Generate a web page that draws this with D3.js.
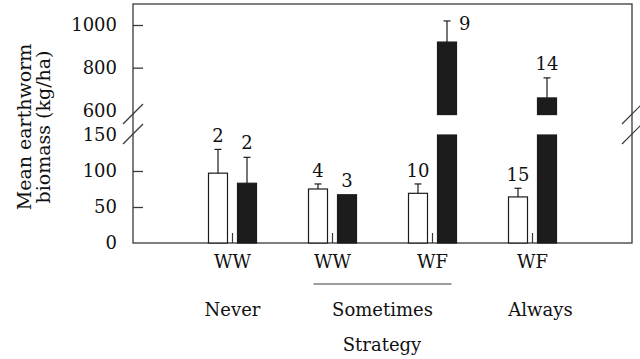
<!DOCTYPE html>
<html>
<head>
<meta charset="utf-8">
<script src="https://cdn.jsdelivr.net/npm/d3@7"></script>
<style>
  html, body { margin: 0; padding: 0; background: #fff; }
  svg { display: block; }
  text { font-family: "DejaVu Serif", serif; fill: #111; }
</style>
</head>
<body>
<script>
// ---- data ----
const strategies = ["Never", "Sometimes", "Sometimes", "Always"];
const rotations = ["WW", "WW", "WF", "WF"];
const whiteMeans = [97, 75, 69, 64];
const whiteSE = [33, 7, 13, 12];
const whiteN = [2, 4, 10, 15];
const blackMeans = [83, 67, 920, 658];
const blackSE = [36, 0, 99, 94];
const blackN = [2, 3, 9, 14];
const lowerTicks = [0, 50, 100, 150];
const upperTicks = [600, 800, 1000];
const strategyLabels = ["Never", "Sometimes", "Always"];
const yTitle = ["Mean earthworm", "biomass (kg/ha)"];
const xTitle = "Strategy";

const W = 640, H = 359;
const frame = {left: 133, right: 632, top: 4, bottom: 243};
const fs = 18;

const svg = d3.select("body").append("svg").attr("width", W).attr("height", H);

// scales
const yLow = d3.scaleLinear().domain([0, 150]).range([frame.bottom, 135]);
const yUp = d3.scaleLinear().domain([600, 1000]).range([110.3, 25]);
const upperCut = 580;
const y = v => v <= 150 ? yLow(v) : yUp(v);

const groups = d3.range(whiteMeans.length);
const x = d3.scaleBand().domain(groups).range([182.5, 582.5]);
const xi = d3.scaleBand().domain(["white", "black"]).range([-24, 24]).paddingInner(0.345);
const cx = i => x(i) + x.bandwidth() / 2;

const stroke = "#3a3a3a";

// frame
svg.append("rect")
  .attr("x", frame.left).attr("y", frame.top)
  .attr("width", frame.right - frame.left).attr("height", frame.bottom - frame.top)
  .attr("fill", "none").attr("stroke", stroke).attr("stroke-width", 1.3);

// y axes (ticks inward)
const axLow = svg.append("g").attr("transform", `translate(${frame.left},0)`)
  .call(d3.axisLeft(yLow).tickValues(lowerTicks).tickSize(-10).tickPadding(16).tickFormat(d3.format("d")));
const axUp = svg.append("g").attr("transform", `translate(${frame.left},0)`)
  .call(d3.axisLeft(yUp).tickValues(upperTicks).tickSize(-10).tickPadding(16).tickFormat(d3.format("d")));
[axLow, axUp].forEach(ax => {
  ax.select(".domain").remove();
  ax.selectAll(".tick line").attr("stroke", stroke).attr("stroke-width", 1.3)
    .filter(d => d === 0 || d === 150 || d === 600).remove();
  ax.selectAll(".tick text").attr("font-size", fs)
    .attr("font-family", "DejaVu Serif").attr("fill", "#111");
});

// break marks
const breakYs = [[124, 104], [144, 124]];
[frame.left, frame.right].forEach(bx => {
  breakYs.forEach(([y1, y2]) => {
    svg.append("line").attr("x1", bx - 10).attr("y1", y1).attr("x2", bx + 10).attr("y2", y2)
      .attr("stroke", stroke).attr("stroke-width", 1.2);
  });
});

// bars
function drawBar(i, kind, mean) {
  const bx = cx(i) + xi(kind);
  const bw = xi.bandwidth();
  const fill = kind === "white" ? "#fff" : "#1c1c1c";
  const segs = mean <= 150 ? [[0, mean]] : [[0, 150], [upperCut, mean]];
  segs.forEach(([a, b]) => {
    svg.append("rect").attr("x", bx).attr("y", y(b)).attr("width", bw).attr("height", y(a) - y(b))
      .attr("fill", fill).attr("stroke", "#1c1c1c").attr("stroke-width", 1.2);
  });
  return bx + bw / 2;
}
function drawErr(xc, mean, se) {
  if (!se) return;
  const top = y(mean + se);
  svg.append("line").attr("x1", xc).attr("x2", xc).attr("y1", y(mean)).attr("y2", top)
    .attr("stroke", "#1c1c1c").attr("stroke-width", 1.2);
  svg.append("line").attr("x1", xc - 3.5).attr("x2", xc + 3.5).attr("y1", top).attr("y2", top)
    .attr("stroke", "#1c1c1c").attr("stroke-width", 1.2);
}
groups.forEach(i => {
  const wc = drawBar(i, "white", whiteMeans[i]);
  drawErr(wc, whiteMeans[i], whiteSE[i]);
  svg.append("text").attr("x", wc).attr("y", y(whiteMeans[i] + whiteSE[i]) - 7)
    .attr("text-anchor", "middle").attr("font-size", fs).text(whiteN[i]);
  const bc = drawBar(i, "black", blackMeans[i]);
  drawErr(bc, blackMeans[i], blackSE[i]);
  const topB = y(blackMeans[i] + blackSE[i]);
  if (blackMeans[i] + blackSE[i] > 900) {
    svg.append("text").attr("x", bc + 12).attr("y", topB + 9)
      .attr("text-anchor", "start").attr("font-size", fs).text(blackN[i]);
  } else {
    svg.append("text").attr("x", bc).attr("y", topB - 8)
      .attr("text-anchor", "middle").attr("font-size", fs).text(blackN[i]);
  }
  // small separator tick
  svg.append("line").attr("x1", cx(i)).attr("x2", cx(i)).attr("y1", frame.bottom).attr("y2", frame.bottom - 10)
    .attr("stroke", stroke).attr("stroke-width", 1.2);
  // rotation label
  svg.append("text").attr("x", cx(i)).attr("y", 268).attr("text-anchor", "middle")
    .attr("font-size", fs).text(rotations[i]);
});

// strategy labels
strategyLabels.forEach(s => {
  const idx = groups.filter(i => strategies[i] === s);
  const c = d3.mean(idx, cx);
  if (idx.length > 1) {
    svg.append("line").attr("x1", cx(idx[0]) - 19).attr("x2", cx(idx[idx.length - 1]) + 19)
      .attr("y1", 284).attr("y2", 284).attr("stroke", stroke).attr("stroke-width", 1.2);
  }
  svg.append("text").attr("x", s === "Always" ? c + 8 : c).attr("y", 316).attr("text-anchor", "middle")
    .attr("font-size", fs).text(s);
});
svg.append("text").attr("x", 382).attr("y", 351).attr("text-anchor", "middle")
  .attr("font-size", fs).text(xTitle);

// y title
const yt = svg.append("text").attr("transform", "translate(0,127) rotate(-90)")
  .attr("text-anchor", "middle").attr("font-size", 19);
yTitle.forEach((t, k) => yt.append("tspan").attr("x", 0).attr("y", 31 + k * 19).text(t));
</script>
</body>
</html>
